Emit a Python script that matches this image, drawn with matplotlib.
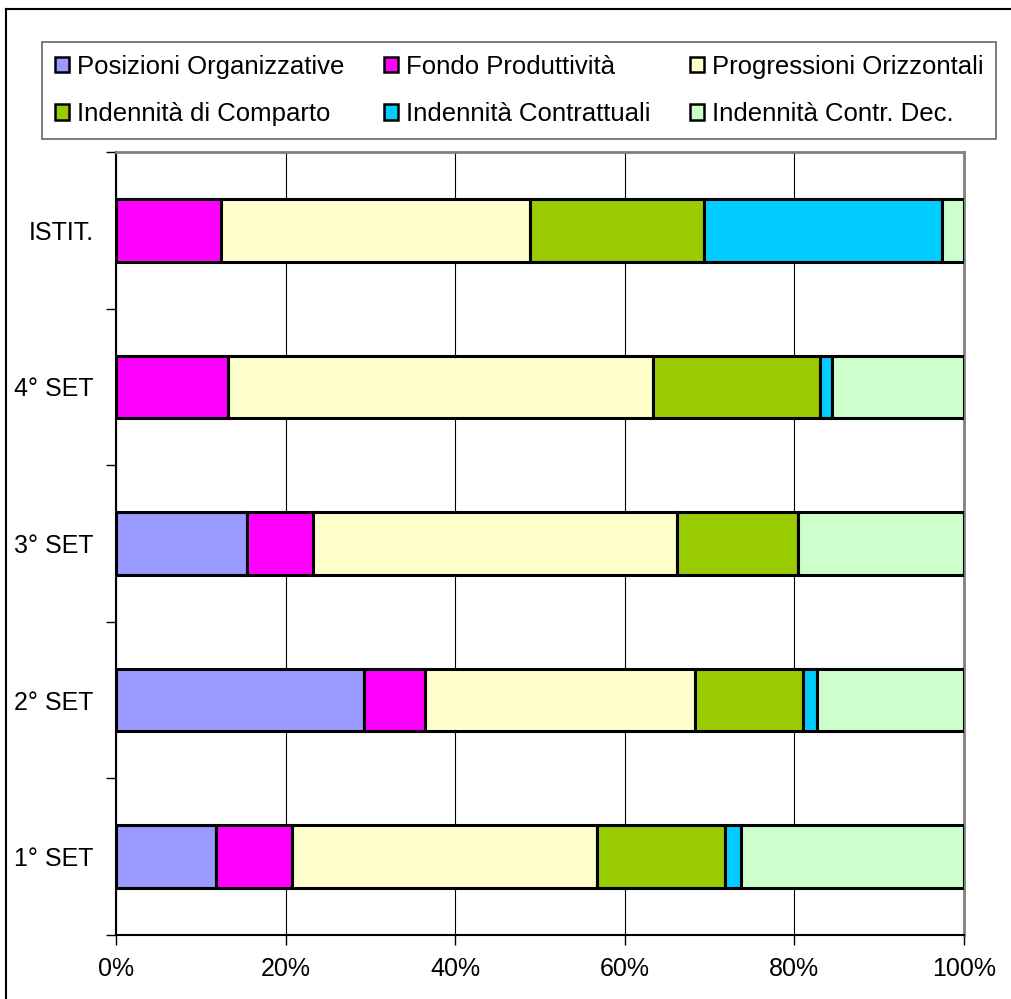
import matplotlib
matplotlib.use("Agg")
import matplotlib.pyplot as plt
from matplotlib.patches import Patch
from matplotlib.lines import Line2D
from matplotlib.ticker import FuncFormatter, MultipleLocator
import numpy as np

plt.rcParams["font.family"] = ["Liberation Sans", "DejaVu Sans"]

# categories, bottom to top
categories = ["1° SET", "2° SET", "3° SET", "4° SET", "ISTIT."]

series_names = [
    "Posizioni Organizzative",
    "Fondo Produttività",
    "Progressioni Orizzontali",
    "Indennità di Comparto",
    "Indennità Contrattuali",
    "Indennità Contr. Dec.",
]
series_colors = ["#9999FF", "#FF00FF", "#FFFFCC", "#99CC00", "#00CCFF", "#CCFFCC"]

# percentage shares per category (1° SET, 2° SET, 3° SET, 4° SET, ISTIT.)
posizioni = [11.8, 29.2, 15.4, 0.0, 0.0]
fondo = [9.0, 7.2, 7.8, 13.2, 12.4]
progressioni = [35.9, 31.9, 43.0, 50.1, 36.4]
comparto = [15.1, 12.7, 14.2, 19.7, 20.5]
contrattuali = [1.9, 1.7, 0.0, 1.4, 28.1]
contr_dec = [26.3, 17.3, 19.6, 15.6, 2.6]

series = [posizioni, fondo, progressioni, comparto, contrattuali, contr_dec]

FS = 18
W, H = 1011, 999
fig = plt.figure(figsize=(W / 100, H / 100), dpi=100)
ax = fig.add_axes([116 / W, 1 - 935 / H, (964 - 116) / W, (935 - 152) / H])

y = np.arange(len(categories))
left = np.zeros(len(categories))
for name, vals, col in zip(series_names, series, series_colors):
    vals = np.array(vals)
    ax.barh(y, vals, left=left, height=0.4, color=col, edgecolor="black",
            linewidth=2.2, label=name, zorder=3)
    left += vals

ax.set_xlim(0, 100)
ax.set_ylim(-0.5, len(categories) - 0.5)
ax.xaxis.set_major_locator(MultipleLocator(20))
ax.xaxis.set_major_formatter(FuncFormatter(lambda v, p: f"{v:.0f}%"))
ax.grid(axis="x", color="black", linewidth=0.8, zorder=0)

ax.set_yticks(y)
ax.set_yticklabels(categories)
ax.set_yticks(np.arange(-0.5, len(categories)), minor=True)
ax.tick_params(axis="y", which="major", length=0, pad=16, labelsize=FS)
ax.tick_params(axis="y", which="minor", length=7, width=1, color="black")
ax.tick_params(axis="x", length=7, width=1, pad=9, labelsize=FS, direction="out")

for s in ["top", "right"]:
    ax.spines[s].set_color("#808080")
    ax.spines[s].set_linewidth(2)
for s in ["left", "bottom"]:
    ax.spines[s].set_color("black")
    ax.spines[s].set_linewidth(1.5)

# legend, row-major order across 3 columns
handles = [Patch(facecolor=c, edgecolor="black", linewidth=1.8) for c in series_colors]
order = [0, 3, 1, 4, 2, 5]
leg = fig.legend([handles[i] for i in order], [series_names[i] for i in order],
                 ncol=3, loc="upper left", bbox_to_anchor=(42 / W, 1 - 42 / H),
                 fontsize=18.5, frameon=True, fancybox=False, handlelength=0.55,
                 handleheight=0.55, handletextpad=0.3, columnspacing=1.55,
                 labelspacing=0.9, borderpad=0.5, borderaxespad=0)
leg.get_frame().set_edgecolor("#404040")
leg.get_frame().set_linewidth(1.2)

# outer chart frame
fig.add_artist(Line2D([6 / W, 6 / W], [0, 1 - 9 / H], color="black", linewidth=1.5))
fig.add_artist(Line2D([6 / W, 1], [1 - 9 / H, 1 - 9 / H], color="black", linewidth=1.5))

plt.savefig("out.png", dpi=100)
